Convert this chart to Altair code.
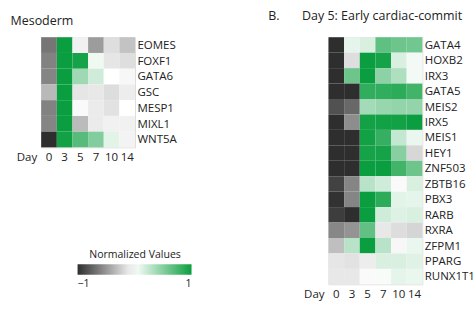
import altair as alt
import pandas as pd

days = ["0", "3", "5", "7", "10", "14"]

meso_genes = ["EOMES", "FOXF1", "GATA6", "GSC", "MESP1", "MIXL1", "WNT5A"]
meso_vals = [
    [-0.61, 1.25, 0.05, -0.41, -0.05, -0.20],
    [-0.55, 1.25, 1.20, 0.20, -0.01, -0.05],
    [-0.53, 1.25, 0.57, 0.35, 0.125, 0.08],
    [-0.25, 1.25, -0.01, 0.00, -0.06, 0.03],
    [-0.55, 1.25, 0.10, 0.02, -0.03, 0.125],
    [-0.53, 1.25, -0.24, 0.02, 0.05, 0.05],
    [-1.00, 1.22, 0.90, 0.70, 0.26, 0.06],
]

card_genes = ["GATA4", "HOXB2", "IRX3", "GATA5", "MEIS2", "IRX5", "MEIS1", "HEY1",
              "ZNF503", "ZBTB16", "PBX3", "RARB", "RXRA", "ZFPM1", "PPARG", "RUNX1T1"]
card_vals = [
    [-1.00, 0.24, 0.30, 0.86, 0.80, 0.78],
    [-1.00, -0.05, 1.25, 1.20, 0.30, 0.18],
    [-1.00, 0.80, 1.25, 0.65, 0.50, 0.18],
    [-1.00, -1.00, 1.08, 1.08, 1.10, 1.00],
    [-0.81, -0.69, 0.55, 0.60, 0.62, 0.62],
    [-1.00, -0.49, 1.22, 1.22, 1.22, 1.25],
    [-1.00, -1.00, 1.22, 1.05, 0.40, 0.22],
    [-1.00, -1.00, 1.20, 1.20, 0.68, -0.09],
    [-1.00, -1.00, 1.25, 1.25, 1.00, 0.80],
    [-0.89, -0.53, 0.45, 0.35, 0.10, 0.30],
    [-0.98, -0.53, 1.25, 1.10, 0.26, 0.24],
    [-0.92, -1.00, 1.25, 0.35, 0.28, 0.30],
    [-0.52, -0.45, 0.85, 0.00, -0.06, -0.10],
    [-0.22, 0.45, 1.25, 0.45, 0.08, 0.22],
    [-0.01, -0.03, 0.03, 0.30, 0.30, 0.27],
    [0.00, 0.00, 0.10, 0.16, 0.24, 0.22],
]

legend_title = "Normalized Values"
legend_ticks = [-1, 1.25]
FONT = "Open Sans"
TXT = "#222222"


def to_df(genes, vals):
    rows = []
    for g, row in zip(genes, vals):
        for d, v in zip(days, row):
            rows.append({"gene": g, "day": d, "value": v})
    return pd.DataFrame(rows)


color_scale = alt.Scale(domain=[-1, 0.125, 1.25],
                        range=["#2e2e2e", "#ffffff", "#0b9e40"],
                        interpolate="rgb", clamp=True)


def panel(df, genes, title, dx, offset, height):
    return alt.Chart(df).mark_rect().encode(
        x=alt.X("day:O", sort=days,
                axis=alt.Axis(orient="bottom", title="Day", labelAngle=0,
                              ticks=False, tickSize=0, domain=False,
                              labelPadding=5, labelFontSize=12, labelColor=TXT,
                              labelFont=FONT, titleFont=FONT, titleFontSize=12,
                              titleFontWeight="normal", titleColor=TXT,
                              titleAngle=0, titleAlign="left", titleBaseline="top",
                              titleX=-26, titleY=5)),
        y=alt.Y("gene:N", sort=genes,
                axis=alt.Axis(orient="right", title=None, ticks=False, tickSize=0,
                              domain=False, labelPadding=2, labelFontSize=12,
                              labelColor=TXT, labelFont=FONT)),
        color=alt.Color("value:Q", scale=color_scale,
                        legend=alt.Legend(title=legend_title, orient="none",
                                          direction="horizontal",
                                          legendX=38, legendY=222,
                                          gradientLength=119, gradientThickness=11,
                                          gradientStrokeWidth=0,
                                          values=legend_ticks,
                                          titleAnchor="middle", titleFont=FONT,
                                          titleFontSize=11, titleFontWeight="normal",
                                          titleColor=TXT, titlePadding=4,
                                          labelFont=FONT, labelFontSize=11,
                                          labelColor=TXT, labelAlign="center",
                                          labelOffset=4)),
    ).properties(
        width=98, height=height,
        title=alt.TitleParams(title, anchor="start", dx=dx, offset=offset,
                              font=FONT, fontSize=13, fontWeight="normal",
                              color=TXT),
    )


left = panel(to_df(meso_genes, meso_vals), meso_genes, "Mesoderm", -6, 10, 115)
right = panel(to_df(card_genes, card_vals), card_genes,
              "B.\u00a0\u00a0\u00a0\u00a0\u00a0\u00a0\u00a0Day 5: Early cardiac-commit",
              -37, 15, 258)

chart = alt.hconcat(left, right, spacing=94).properties(
    padding={"left": 10, "top": 3, "right": 0, "bottom": 4}
).configure_view(stroke=None).configure(background="white")

chart.save("out.html", embed_options={"renderer": "svg", "actions": False})
